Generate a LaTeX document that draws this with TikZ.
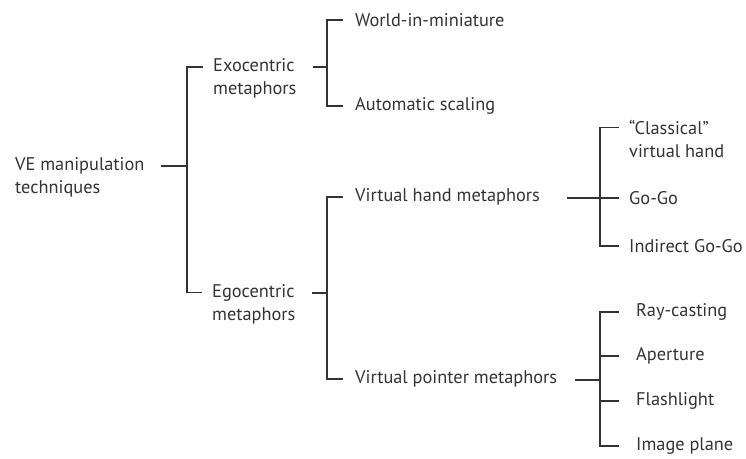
\documentclass[tikz,border=0pt]{standalone}
\usepackage{fontspec}
\setmainfont{PT Sans}
\usepackage{tikz}
\definecolor{ink}{HTML}{333333}

\begin{document}
\begin{tikzpicture}[
  lbl/.style={anchor=west,inner sep=0pt,align=left,text=ink,font=\fontsize{18.4}{23}\selectfont},
  tree/.style={draw=ink,line width=1.3bp},
]
\useasboundingbox (0bp,0bp) rectangle (746bp,-459bp);

\coordinate (rootJ) at (187bp,-166bp);
\coordinate (exoJ) at (327bp,-67bp);
\coordinate (egoJ) at (327bp,-293bp);
\coordinate (vhandJ) at (600bp,-198bp);
\coordinate (vptrJ) at (600bp,-380bp);

\node (root) at (15bp,-177.5bp)[lbl] {VE manipulation\\techniques};
\node (exo) at (213bp,-78.5bp)[lbl] {Exocentric\\metaphors};
\node (ego) at (212bp,-304bp)[lbl] {Egocentric\\metaphors};
\node (wim) at (355bp,-20bp)[lbl] {World-in-miniature};
\node (autos) at (355bp,-106bp)[lbl] {Automatic scaling};
\node (vhand) at (355bp,-197bp)[lbl] {Virtual hand metaphors};
\node (vptr) at (355bp,-379bp)[lbl] {Virtual pointer metaphors};
\node (classic) at (629bp,-139bp)[lbl] {``Classical''\\virtual hand};
\node (gogo) at (629bp,-198bp)[lbl] {Go-Go};
\node (igogo) at (629bp,-246bp)[lbl] {Indirect Go-Go};
\node (ray) at (636bp,-312bp)[lbl] {Ray-casting};
\node (aper) at (636bp,-356bp)[lbl] {Aperture};
\node (flash) at (636bp,-401bp)[lbl] {Flashlight};
\node (image) at (636bp,-446bp)[lbl] {Image plane};

% root
\draw [tree,shorten <=16bp] (root.east |- rootJ) -- (rootJ);
\draw [tree] ([xshift=-10bp,yshift=11.5bp]exo.west) -| (rootJ) |- ([xshift=-10bp,yshift=11.5bp]ego.west);

% exocentric
\draw [tree,shorten <=16bp] (exo.east |- exoJ) -- (exoJ);
\draw [tree] ([xshift=-12bp]wim.west) -| (exoJ) |- ([xshift=-12bp]autos.west);

% egocentric
\draw [tree,shorten <=16bp] (ego.east |- egoJ) -- (egoJ);
\draw [tree] ([xshift=-12bp]vhand.west) -| (egoJ) |- ([xshift=-12bp]vptr.west);

% virtual hand
\draw [tree,shorten <=27bp] (vhand.east |- vhandJ) -- (vhandJ);
\draw [tree] ([xshift=-10bp,yshift=11.5bp]classic.west) -| (vhandJ) |- ([xshift=-10bp]igogo.west);
\draw [tree] (vhandJ) -- ([xshift=-10bp]gogo.west);

% virtual pointer
\draw [tree,shorten <=18bp] (vptr.east |- vptrJ) -- (vptrJ);
\draw [tree] ([xshift=-17bp]ray.west) -| (vptrJ) |- ([xshift=-17bp]image.west);
\draw [tree] (vptrJ |- aper.west) -- ([xshift=-17bp]aper.west);
\draw [tree] (vptrJ |- flash.west) -- ([xshift=-17bp]flash.west);
\end{tikzpicture}
\end{document}
